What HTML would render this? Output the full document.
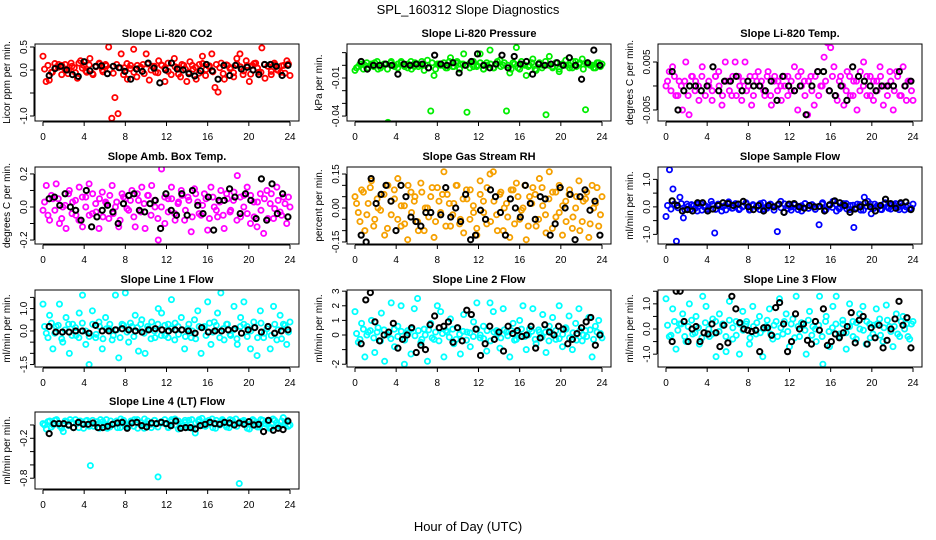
<!DOCTYPE html>
<html><head><meta charset="utf-8">
<style>
html,body{margin:0;padding:0;background:#fff;}
svg{display:block;font-family:"Liberation Sans",sans-serif;}
</style></head>
<body>
<svg id="chart" width="936" height="540" viewBox="0 0 936 540" xmlns="http://www.w3.org/2000/svg">
<rect width="936" height="540" fill="#fff"/>
<text x="468" y="14" text-anchor="middle" font-size="13">SPL_160312  Slope Diagnostics</text>
<text x="468" y="531" text-anchor="middle" font-size="13">Hour of Day (UTC)</text>
</svg>
<script>
const xTicks = [0,4,8,12,16,20,24];
const xTickLabels = ["0","4","8","12","16","20","24"];

const co2Vals = [0.3,-0.25,-0.22,-0.05,0.05,0.12,0.1,0.02,-0.08,0.15,0.05,-0.18,0.2,0.1,-0.05,0.25,-0.1,0.08,0.15,0.0,0.12,0.5,-1.05,-0.6,-0.95,0.35,0.05,-0.2,0.1,0.45,-0.15,0.05,0.12,0.35,-0.22,0.08,-0.05,0.2,0.1,-0.25,0.15,-0.1,0.25,0.05,-0.15,0.1,-0.25,0.18,0.02,-0.2,0.12,0.3,-0.12,0.08,0.35,-0.38,-0.48,0.15,-0.2,0.1,0.05,-0.15,0.25,0.35,-0.1,0.2,-0.25,0.1,0.15,-0.05,0.48,-0.18,0.08,-0.1,0.15,0.0,-0.05,0.1,0.2,-0.12];
const co2Band = [0.02,0.1,-0.05,0.14,0.06,-0.1,0.12,0.0,0.08,-0.06,0.15,0.04,-0.02,0.11,-0.08,0.07,0.13,-0.04,0.09,0.01,-0.07,0.12,0.05,-0.1,0.14,0.03,-0.05,0.1,0.06,-0.08,0.13,0.0,0.08,-0.06,0.11,0.04,-0.03,0.15,0.07,-0.09,0.12,0.02,-0.05,0.1,0.06,-0.07,0.14,0.01,0.09,-0.04,0.12,0.05,-0.08,0.11,0.03,-0.06,0.13,0.07,-0.02,0.1,-0.09,0.14,0.04,-0.05,0.12,0.08,-0.03,0.11,0.0,0.09,-0.07,0.13];
const co2Black = [-0.12,0.03,0.08,0.0,-0.1,-0.14,0.18,-0.02,0.08,0.09,-0.08,0.08,0.05,-0.03,-0.2,0.02,-0.03,0.15,0.04,-0.28,0.0,0.15,0.02,0.0,-0.08,-0.13,-0.02,0.12,-0.02,-0.2,0.1,-0.12,0.1,0.02,0.06,0.0,-0.1,0.12,0.12,0.08,-0.12,0.1];
const presVals = [-0.004,-0.001,0.001,0.0,-0.002,0.001,0.002,-0.003,0.0,0.001,-0.045,0.003,-0.001,0.001,0.002,0.0,-0.002,0.003,-0.001,0.001,0.0,-0.004,0.004,-0.036,-0.008,0.001,0.0,0.002,-0.002,0.006,-0.001,0.003,0.001,0.009,-0.037,0.002,-0.001,0.0,0.009,-0.003,0.002,0.012,-0.002,0.001,0.004,0.0,-0.036,-0.006,0.002,0.014,-0.003,0.001,-0.008,0.0,0.005,-0.004,0.002,0.0,-0.039,0.007,-0.002,0.002,-0.005,0.001,0.004,0.0,-0.002,0.003,0.001,0.005,-0.035,0.001,0.0,-0.002,0.002,0.001];
const presBand = [-0.002,0.001,-0.003,0.002,0.0,-0.001,0.003,-0.002,0.001,-0.003,0.002,0.0,-0.002,0.003,-0.001,0.001,-0.003,0.002,-0.001,0.003,0.0,-0.002,0.002,-0.003,0.001,0.0,-0.002,0.003,-0.001,0.002,-0.003,0.001,0.0,-0.002,0.003,-0.001,0.002,-0.003,0.0,0.001,-0.002,0.003,-0.001,0.002,0.0,-0.003,0.001,-0.002,0.003,0.0,-0.001,0.002,-0.003,0.001,-0.002,0.003,0.0,-0.001,0.002,-0.003,0.001,0.0,-0.002,0.003,-0.001,0.002,-0.003,0.001,0.0,-0.002,0.002,-0.001];
const presBlack = [0.003,-0.003,0.0,0.0,0.001,0.0,-0.007,0.001,0.0,0.001,0.001,-0.002,0.008,0.001,0.0,0.002,-0.006,0.0,0.003,0.009,0.0,-0.002,0.001,0.008,-0.002,0.007,0.001,0.003,-0.007,0.001,0.0,0.001,0.002,0.0,0.006,0.0,-0.011,0.002,0.012,0.0];
const tempVals = [0.0,0.003,0.004,-0.002,0.001,-0.005,0.005,-0.006,0.002,0.001,-0.003,0.004,-0.008,0.0,-0.003,0.002,0.003,-0.004,0.005,0.001,-0.002,0.005,0.002,-0.003,0.005,0.0,-0.004,0.002,0.003,0.001,-0.002,0.003,-0.004,0.002,0.001,-0.003,0.0,0.002,-0.001,0.004,-0.005,0.003,0.001,-0.006,0.002,-0.004,0.003,0.0,0.006,0.009,0.008,0.004,-0.003,0.002,-0.004,0.003,-0.002,0.001,-0.005,0.003,0.005,-0.002,0.002,-0.003,0.001,0.004,-0.004,0.0,0.003,-0.005,0.003,-0.002,0.004,-0.003,0.001,-0.003];
const tempBand = [0.001,-0.001,0.002,-0.002,0.0,0.001,-0.002,0.002,-0.001,0.0,0.002,-0.002,0.001,-0.001,0.002,0.0,-0.002,0.001,-0.001,0.002,-0.002,0.0,0.001,-0.001,0.002,-0.002,0.001,0.0,-0.001,0.002,-0.002,0.001,-0.001,0.0,0.002,-0.002,0.001,-0.001,0.002,0.0,-0.002,0.001,-0.001,0.002,-0.002,0.0,0.001,-0.001,0.002,-0.002,0.001,0.0,-0.001,0.002,-0.002,0.001,-0.001,0.0,0.002,-0.002,0.001,-0.001,0.002,0.0,-0.002,0.001,-0.001,0.002,-0.002,0.0,0.001,-0.001];
const tempBlack = [0.003,-0.005,-0.001,0.0,0.0,-0.001,0.0,0.004,-0.001,0.001,0.001,0.002,-0.001,0.001,0.0,0.0,-0.001,0.001,-0.003,0.002,0.0,-0.001,0.0,-0.006,0.0,0.003,0.003,-0.001,-0.002,0.0,-0.003,0.004,0.002,0.001,0.0,-0.001,0.0,0.0,0.0,0.003,0.0,0.001];
const ambVals = [-0.02,0.13,-0.08,0.05,0.14,-0.1,0.0,-0.13,0.1,0.03,-0.05,0.12,-0.12,0.06,0.14,-0.04,0.02,-0.13,0.09,0.03,-0.07,0.13,0.0,-0.12,0.08,0.05,-0.02,0.1,-0.12,0.04,0.12,-0.13,0.07,0.13,0.0,-0.2,0.23,-0.1,0.05,0.12,-0.04,0.02,0.1,-0.08,0.06,-0.15,0.11,0.03,-0.05,0.08,-0.14,0.12,0.0,-0.06,0.1,-0.13,0.05,-0.02,0.09,0.19,-0.06,0.07,0.12,-0.1,0.03,-0.12,0.08,-0.16,0.1,0.02,-0.07,0.12,-0.03,0.06,-0.1,0.0];
const ambBand = [0.03,-0.05,0.07,-0.02,0.05,-0.07,0.01,0.08,-0.04,0.04,-0.08,0.06,0.0,-0.05,0.08,-0.03,0.05,-0.06,0.02,0.07,-0.04,0.03,-0.08,0.06,-0.01,0.04,-0.06,0.08,-0.03,0.02,0.07,-0.05,0.04,-0.07,0.0,0.06,-0.03,0.05,-0.08,0.03,0.07,-0.02,0.04,-0.06,0.08,-0.04,0.01,0.05,-0.07,0.06,-0.02,0.03,-0.05,0.08,-0.03,0.04,-0.08,0.06,0.0,-0.04,0.07,-0.06,0.03,-0.02,0.05,-0.07,0.08,-0.01,0.04,-0.05,0.02,0.06];
const ambBlack = [0.05,0.06,0.01,0.08,0.0,-0.02,-0.08,0.1,-0.12,-0.06,-0.02,0.01,-0.03,-0.1,0.02,0.07,0.08,-0.02,-0.03,0.02,0.04,-0.13,0.08,-0.02,-0.05,0.08,-0.05,0.1,0.01,-0.04,0.06,-0.14,0.04,0.04,0.11,0.06,-0.04,0.08,0.04,-0.07,0.17,-0.08,0.14,-0.04,0.08,-0.06];
const rhVals = [0.05,-0.02,0.08,-0.1,0.02,0.12,-0.05,0.0,0.06,-0.12,0.1,-0.03,0.04,0.13,-0.08,0.01,-0.14,0.07,0.03,-0.06,0.11,-0.1,0.0,0.05,-0.13,0.09,-0.02,0.16,0.06,-0.08,0.02,0.1,-0.05,-0.11,0.04,0.08,-0.02,-0.12,0.12,0.03,-0.07,0.15,0.16,-0.03,0.06,-0.1,0.02,-0.13,0.08,0.11,-0.05,0.0,-0.14,0.05,0.09,-0.08,0.13,0.01,-0.11,0.16,0.07,-0.04,0.1,-0.12,0.03,0.06,-0.09,0.0,0.12,-0.06,0.04,-0.13,0.1,0.02,-0.08,0.05];
const rhBand = [0.02,-0.06,0.07,-0.03,0.09,-0.08,0.04,-0.01,0.06,-0.09,0.03,0.08,-0.05,0.01,-0.07,0.1,-0.02,0.05,-0.1,0.07,0.0,-0.04,0.09,-0.06,0.03,0.06,-0.08,0.02,-0.03,0.1,-0.07,0.04,0.08,-0.05,0.01,-0.09,0.06,-0.02,0.09,-0.06,0.03,-0.1,0.07,0.0,-0.04,0.08,-0.07,0.05,-0.01,0.1,-0.08,0.02,0.06,-0.05,0.09,-0.03,0.04,-0.09,0.07,-0.02,0.01,-0.06,0.08,-0.04,0.05,-0.1,0.03,0.07,-0.07,0.0,0.09,-0.03];
const rhBlack = [-0.12,-0.15,0.13,0.02,0.06,0.1,0.03,-0.1,0.1,0.05,-0.04,-0.06,-0.08,-0.02,-0.02,-0.18,-0.03,0.09,-0.04,0.0,-0.06,0.06,-0.14,-0.12,-0.01,-0.05,0.08,0.05,-0.02,-0.12,0.04,0.0,-0.04,0.1,0.02,-0.05,0.05,0.04,-0.12,-0.07,0.09,0.0,0.06,-0.14,0.05,0.08,-0.01,0.03,-0.12];
const sampVals = [-0.35,1.35,0.65,-1.25,0.35,-0.4,0.1,-0.1,0.05,-0.15,0.12,0.0,-0.08,0.2,-0.95,0.1,-0.15,0.05,0.18,-0.05,0.12,-0.1,0.0,0.15,-0.12,0.08,0.02,-0.1,0.15,-0.05,0.1,0.0,-0.9,0.2,-0.2,0.05,-0.12,0.1,0.02,-0.15,0.12,-0.05,0.08,0.0,-0.65,0.15,-0.1,0.05,0.2,-0.15,0.0,0.12,-0.08,0.05,-0.75,0.1,-0.12,0.35,0.2,-0.25,0.1,0.0,-0.1,0.15,-0.05,0.08,0.12,-0.1,0.05,0.0,-0.08,0.1];
const sampBand = [0.05,-0.08,0.1,-0.03,0.12,-0.1,0.02,0.08,-0.06,0.11,-0.12,0.04,-0.02,0.09,-0.09,0.06,0.0,-0.11,0.12,-0.04,0.07,-0.07,0.03,0.1,-0.1,0.05,-0.01,0.12,-0.08,0.02,0.09,-0.12,0.06,-0.03,0.11,-0.06,0.0,0.08,-0.1,0.04,0.12,-0.05,0.07,-0.09,0.01,0.1,-0.11,0.05,-0.02,0.09,-0.07,0.03,0.12,-0.1,0.06,-0.04,0.08,-0.12,0.02,0.11,-0.06,0.04,-0.09,0.1,0.0,-0.08,0.07,-0.03,0.12,-0.11,0.05,-0.05];
const sampBlack = [0.22,0.05,-0.15,-0.1,-0.15,0.15,0.15,-0.15,-0.08,0.05,0.15,0.12,0.05,0.1,0.2,0.0,-0.1,0.05,-0.15,0.05,0.0,0.1,-0.2,0.1,0.12,0.0,-0.05,0.05,0.0,0.02,-0.15,0.08,0.22,0.15,0.05,-0.2,-0.08,0.0,0.15,0.0,-0.15,0.05,0.28,0.12,-0.05,0.15,0.18,-0.1];
const l1Vals = [1.2,-0.1,0.7,-0.8,0.2,1.2,-0.5,0.6,-1.0,0.3,-0.2,0.8,1.6,-0.6,-1.5,0.9,-0.3,0.4,-0.8,0.6,0.1,-0.4,1.6,-1.2,0.3,1.7,-0.5,0.2,0.7,-0.9,0.5,-1.0,0.1,0.4,-0.3,1.0,0.8,-0.2,0.3,1.4,-0.4,0.2,0.6,-0.8,0.1,-0.3,0.5,0.9,-1.0,0.2,1.3,-0.6,0.4,0.8,1.7,-0.4,0.3,-0.2,1.1,-0.6,0.6,1.3,0.2,-0.8,0.4,-1.1,0.9,-0.3,0.1,-0.8,1.1,-0.4,0.7,0.3,-0.6,0.4];
const l1Band = [0.2,-0.3,0.35,-0.1,0.25,-0.35,0.05,0.3,-0.2,0.15,-0.3,0.35,0.0,-0.25,0.3,-0.15,0.2,-0.35,0.1,0.3,-0.2,0.05,-0.3,0.25,-0.05,0.35,-0.25,0.15,0.3,-0.1,0.2,-0.35,0.0,0.3,-0.2,0.25,-0.3,0.1,0.35,-0.15,0.05,-0.25,0.3,0.0,-0.35,0.2,0.15,-0.2,0.35,-0.05,0.25,-0.3,0.1,0.3,-0.15,0.05,-0.35,0.2,0.3,-0.25,0.0,0.15,-0.3,0.35,-0.1,0.2,-0.2,0.3,0.05,-0.35,0.25,-0.05];
const l1Black = [0.2,-0.05,-0.05,-0.05,0.0,0.0,-0.1,0.25,0.0,0.0,0.05,0.1,0.05,0.0,-0.05,0.05,0.1,0.05,0.0,0.05,0.05,0.0,-0.1,0.15,-0.05,0.0,0.0,0.05,0.1,-0.1,0.05,0.15,-0.05,0.2,-0.1,0.0,0.05];
const l2Vals = [1.6,-0.5,0.8,-1.5,0.2,1.0,-1.2,0.5,1.5,-1.8,0.0,2.2,-0.8,0.6,2.0,-2.0,0.3,-1.3,1.8,2.5,-0.5,0.4,-1.8,0.8,-0.3,2.0,1.6,-1.5,0.2,1.1,-0.6,0.5,-1.3,1.4,0.2,-0.8,0.9,2.2,-0.2,0.6,-1.1,2.2,1.6,0.3,-0.9,1.8,0.2,-1.5,0.8,-0.3,1.0,2.0,-1.0,0.4,1.8,-0.6,0.2,1.4,-1.2,0.6,1.2,-0.3,2.0,-0.8,0.5,1.3,-1.0,0.8,1.8,-0.4,0.3,1.2,-1.5,0.6,1.0,-0.2];
const l2Band = [0.1,-0.3,0.4,0.0,0.3,-0.2,0.2,-0.4,0.35,0.05,-0.25,0.4,-0.1,0.25,-0.35,0.15,0.4,-0.05,0.3,-0.3,0.0,0.35,-0.2,0.2,-0.4,0.1,0.3,-0.15,0.4,-0.3,0.05,0.25,-0.35,0.15,-0.1,0.4,0.0,-0.25,0.3,-0.4,0.2,0.1,-0.2,0.35,-0.05,0.3,-0.35,0.15,0.4,-0.1,0.0,0.25,-0.3,0.35,-0.15,0.2,-0.4,0.1,0.3,-0.25,0.05,0.4,-0.2,0.15,-0.35,0.3,0.0,-0.1,0.35,-0.3,0.2,0.1];
const l2Black = [-0.6,2.4,2.9,0.9,-0.4,0.0,0.2,0.8,-0.9,-0.3,0.0,0.5,-1.2,-0.7,-1.0,0.7,1.3,0.5,0.6,0.9,-0.5,0.5,-0.4,1.7,1.4,0.4,-1.4,-0.6,0.6,-0.3,0.2,-1.1,0.6,0.1,0.3,-0.1,0.0,0.6,-0.9,-0.2,0.7,0.2,0.0,0.6,0.4,-0.6,-0.3,0.1,0.5,0.9,1.2,-0.7,0.0];
const l3Vals = [1.2,-0.3,0.8,-0.8,0.2,0.6,-0.5,1.0,-0.2,0.5,-0.6,1.3,0.9,-0.3,0.4,-1.1,0.6,0.2,-0.9,1.1,-0.4,0.3,-1.0,0.7,0.2,-0.6,0.9,-0.2,0.5,-1.1,0.1,0.8,-0.4,0.3,1.2,-0.2,0.6,-0.7,0.4,1.3,-0.3,0.2,-1.0,0.7,0.1,-0.5,1.3,-1.4,0.5,-0.7,0.9,1.3,-0.3,0.2,-0.8,1.0,0.3,-0.4,0.6,0.9,-0.6,0.2,-0.2,0.8,0.4,-0.5,0.95,0.1,-0.7,0.6,-0.3,0.5,0.2,-0.4,0.3];
const l3Band = [0.15,-0.25,0.3,-0.05,0.2,-0.3,0.1,0.35,-0.15,0.05,-0.35,0.25,0.0,-0.2,0.3,-0.1,0.15,-0.3,0.35,0.05,-0.25,0.2,-0.05,0.3,-0.35,0.1,0.25,-0.15,0.0,0.35,-0.2,0.15,-0.3,0.05,0.3,-0.1,0.2,-0.35,0.1,0.25,-0.05,0.35,-0.25,0.0,0.15,-0.3,0.3,-0.1,0.05,0.2,-0.2,0.35,-0.15,0.1,-0.3,0.25,0.0,-0.05,0.3,-0.35,0.15,0.2,-0.25,0.05,0.35,-0.1,0.1,-0.2,0.3,0.0,-0.3,0.2];
const l3Black = [-0.5,1.5,1.5,0.3,-0.5,0.0,0.1,-0.5,-0.15,-0.2,0.2,-0.15,-0.7,0.15,-0.55,1.3,0.8,0.25,0.0,-0.05,-0.1,-0.05,-0.9,0.05,0.05,-0.25,0.85,1.05,0.2,-0.9,-0.5,0.6,0.0,0.2,-0.45,-0.6,0.3,-0.05,0.8,-0.65,-0.5,-0.2,-0.35,-0.15,0.1,0.65,-0.55,0.35,0.5,-0.6,0.05,-0.35,0.15,-0.75,-0.45,0.0,0.4,1.1,0.15,0.45,-0.75];
const l4Vals = [0.02,-0.06,0.06,0.0,0.08,-0.02,-0.1,0.05,0.08,-0.04,0.02,0.06,-0.05,0.07,-0.61,-0.02,0.05,0.08,0.0,-0.05,0.06,0.03,-0.04,0.09,0.02,-0.03,0.06,0.08,-0.05,0.04,0.09,0.01,-0.04,0.07,-0.78,0.03,0.08,-0.03,0.05,0.09,-0.06,0.02,0.07,-0.04,0.08,-0.12,0.05,0.1,-0.02,0.07,0.09,-0.05,0.03,0.08,0.0,-0.04,0.07,0.09,-0.88,0.05,0.02,-0.06,0.08,0.04,-0.03,0.07,0.01,-0.05,0.09,0.03,-0.02,0.11,0.05,0.0];
const l4Band = [0.0,0.05,-0.03,0.07,0.02,-0.05,0.06,-0.01,0.04,0.08,-0.04,0.03,0.06,-0.02,0.07,0.01,-0.05,0.05,0.08,-0.03,0.02,0.06,-0.04,0.07,0.0,0.04,-0.02,0.08,0.03,-0.05,0.06,0.01,0.07,-0.03,0.05,0.02,-0.04,0.08,0.0,0.06,-0.02,0.04,0.07,-0.05,0.03,0.08,-0.01,0.05,0.02,-0.04,0.07,0.0,0.06,-0.03,0.08,0.03,-0.02,0.05,0.07,-0.05,0.01,0.06,-0.03,0.08,0.02,0.04,-0.04,0.07,0.0,0.06,0.03,-0.02];
const l4Black = [-0.13,0.02,0.02,0.02,0.0,-0.04,0.04,0.01,0.01,0.03,-0.04,-0.04,-0.02,0.01,0.03,0.04,-0.05,0.03,0.04,-0.01,-0.03,0.03,0.02,0.04,0.02,-0.01,0.06,-0.05,-0.04,-0.04,-0.06,-0.01,0.01,0.04,0.02,0.01,0.04,0.03,0.0,0.03,0.01,0.05,0.0,0.01,-0.1,0.07,-0.08,-0.05,-0.07,0.06];

const co2Ticks = [-1,-0.5,0,0.5], co2Labels = ["-1.0","","0.0","0.5"];
const presTicks = [-0.04,-0.03,-0.02,-0.01,0,0.01], presLabels = ["-0.04","","","-0.01","",""];
const tempTicks = [-0.005,0,0.005], tempLabels = ["-0.005","","0.005"];
const ambTicks = [-0.2,-0.1,0,0.1,0.2], ambLabels = ["-0.2","","0.0","","0.2"];
const rhTicks = [-0.15,-0.1,-0.05,0,0.05,0.1,0.15], rhLabels = ["-0.15","","","0.00","","","0.15"];
const sampTicks = [-1,-0.5,0,0.5,1], sampLabels = ["-1.0","","0.0","","1.0"];
const l1Ticks = [-1.5,-1,-0.5,0,0.5,1,1.5], l1Labels = ["-1.5","","","0.0","","1.0",""];
const l2Ticks = [-2,-1,0,1,2,3], l2Labels = ["-2","","0","1","2","3"];
const l3Ticks = [-1,-0.5,0,0.5,1,1.5], l3Labels = ["-1.0","","0.0","","1.0",""];
const l4Ticks = [-0.8,-0.6,-0.4,-0.2,0], l4Labels = ["-0.8","","","-0.2",""];

const NS = "http://www.w3.org/2000/svg";
const svg = document.getElementById('chart');
function mk(tag, attrs, parent){const e=document.createElementNS(NS,tag);for(const k in attrs)e.setAttribute(k,attrs[k]);(parent||svg).appendChild(e);return e;}

function panel(name, title, ylab, col, left, top, ymin, ymax, ticks, labels, vals, band, black){
  const W=264,H=77,right=left+W,bottom=top+H;
  const g=mk('g',{});
  
  
  const xs=h=>left+8+(h/24)*247;
  const ys=v=>bottom-(v-ymin)/(ymax-ymin)*H;
  const clip='clip-'+name;
  const cp=mk('clipPath',{id:clip},g);
  mk('rect',{x:left,y:top,width:W,height:H},cp);
  const pts=mk('g',{'clip-path':'url(#'+clip+')'},g);
  
  
  band.forEach((v,i)=>{
    const c=mk('circle',{cx:xs(0.15+i*23.7/(band.length-1)),cy:ys(v),r:2.6,fill:'none',stroke:col,'stroke-width':1.8},pts);
    
    
  });
  vals.forEach((v,i)=>{
    const c=mk('circle',{cx:xs(i*24/(vals.length-1)),cy:ys(v),r:2.6,fill:'none',stroke:col,'stroke-width':1.8},pts);
    
    
  });
  black.forEach((v,i)=>{
    const c=mk('circle',{cx:xs(0.6+i*23.2/(black.length-1)),cy:ys(v),r:2.6,fill:'none',stroke:'#000','stroke-width':2},pts);
    
    
  });
  const box=mk('rect',{x:left,y:top,width:W,height:H,fill:'none',stroke:'#000','stroke-width':1},g);
  
  
  const t=mk('text',{x:left+W/2,y:top-7,'text-anchor':'middle','font-size':11,'font-weight':'bold'},g);
  t.textContent=title;
  
  
  const yl=mk('text',{x:0,y:0,'text-anchor':'middle','font-size':10,transform:`translate(${left-25},${top+H/2}) rotate(-90)`},g);
  yl.textContent=ylab;
  
  
  const xa=mk('g',{},g);
  
  
  mk('line',{x1:xs(0),x2:xs(24),y1:bottom+1,y2:bottom+1,stroke:'#000'},xa);
  xTicks.forEach((h,i)=>{
    mk('line',{x1:xs(h),x2:xs(h),y1:bottom+1,y2:bottom+5,stroke:'#000'},xa);
    const tl=mk('text',{x:xs(h),y:bottom+19,'text-anchor':'middle','font-size':10},xa);
    tl.textContent=xTickLabels[i];
    
    
  });
  const ya=mk('g',{},g);
  
  
  mk('line',{x1:left-1,x2:left-1,y1:ys(ticks[0]),y2:ys(ticks[ticks.length-1]),stroke:'#000'},ya);
  ticks.forEach((v,i)=>{
    mk('line',{x1:left-5,x2:left-1,y1:ys(v),y2:ys(v),stroke:'#000'},ya);
    if(labels[i]){
      const tl=mk('text',{x:0,y:0,'text-anchor':'middle','font-size':10,transform:`translate(${left-8},${ys(v)}) rotate(-90)`},ya);
      tl.textContent=labels[i];
      
      
    }
  });
}
const L=[35,347,658], T=[44,167,290,412];
panel('co2','Slope Li-820 CO2','Licor ppm per min.','#ff0000',L[0],T[0],-1.109,0.565,co2Ticks,co2Labels,co2Vals,co2Band,co2Black);
panel('pressure','Slope Li-820 Pressure','kPa per min.','#00ee00',L[1],T[0],-0.0439,0.0168,presTicks,presLabels,presVals,presBand,presBlack);
panel('temp','Slope Li-820 Temp.','degrees C per min.','#ff00ff',L[2],T[0],-0.0073,0.00875,tempTicks,tempLabels,tempVals,tempBand,tempBlack);
panel('amb-box-temp','Slope Amb. Box Temp.','degrees C per min.','#ff00ff',L[0],T[1],-0.224,0.242,ambTicks,ambLabels,ambVals,ambBand,ambBlack);
panel('gas-rh','Slope Gas Stream RH','percent per min.','#f5a000',L[1],T[1],-0.159,0.181,rhTicks,rhLabels,rhVals,rhBand,rhBlack);
panel('sample-flow','Slope Sample Flow','ml/min per min.','#0000ff',L[2],T[1],-1.35,1.45,sampTicks,sampLabels,sampVals,sampBand,sampBlack);
panel('line1-flow','Slope Line 1 Flow','ml/min per min.','#00ffff',L[0],T[2],-1.61,1.83,l1Ticks,l1Labels,l1Vals,l1Band,l1Black);
panel('line2-flow','Slope Line 2 Flow','ml/min per min.','#00ffff',L[1],T[2],-2.19,3.08,l2Ticks,l2Labels,l2Vals,l2Band,l2Black);
panel('line3-flow','Slope Line 3 Flow','ml/min per min.','#00ffff',L[2],T[2],-1.51,1.55,l3Ticks,l3Labels,l3Vals,l3Band,l3Black);
panel('line4-flow','Slope Line 4 (LT) Flow','ml/min per min.','#00ffff',L[0],T[3],-0.962,0.195,l4Ticks,l4Labels,l4Vals,l4Band,l4Black);
</script>
</body></html>
